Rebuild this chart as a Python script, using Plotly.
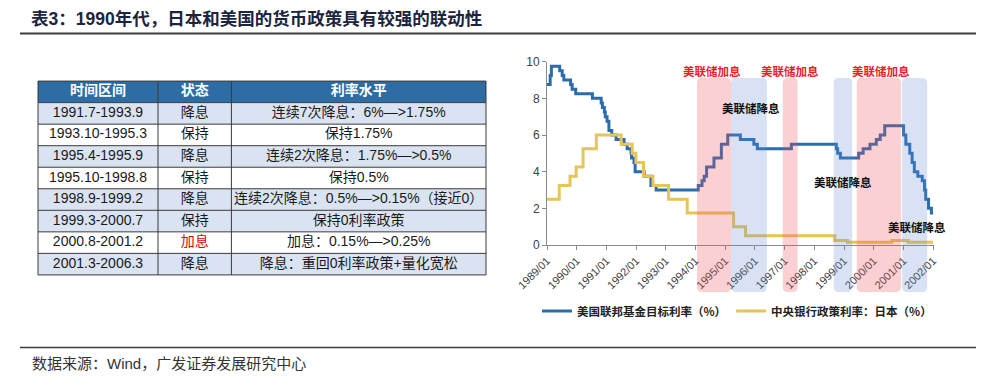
import plotly.graph_objects as go
from datetime import date

# ---------------- data ----------------
fed_dates = ["1989-01-01", "1989-02-09", "1989-02-24", "1989-06-06", "1989-07-07", "1989-07-27",
             "1989-10-18", "1989-11-06", "1989-12-20", "1990-07-13", "1990-10-29", "1990-11-13",
             "1990-12-07", "1990-12-18", "1991-01-09", "1991-02-01", "1991-03-08", "1991-04-30",
             "1991-08-06", "1991-09-13", "1991-10-31", "1991-11-06", "1991-12-06", "1991-12-20",
             "1992-04-09", "1992-07-02", "1992-09-04", "1994-02-04", "1994-03-22", "1994-04-18",
             "1994-05-17", "1994-08-16", "1994-11-15", "1995-02-01", "1995-07-06", "1995-12-19",
             "1996-01-31", "1997-03-25", "1998-09-29", "1998-10-15", "1998-11-17", "1999-06-30",
             "1999-08-24", "1999-11-16", "2000-02-02", "2000-03-21", "2000-05-16", "2001-01-03",
             "2001-01-31", "2001-03-20", "2001-04-18", "2001-05-15", "2001-06-27", "2001-08-21",
             "2001-09-17", "2001-10-02", "2001-11-06", "2001-12-11", "2002-01-01"]
fed_rates = [8.75, 9.25, 9.75, 9.5, 9.25, 9.0,
             8.75, 8.5, 8.25, 8.0, 7.75, 7.5,
             7.25, 7.0, 6.75, 6.25, 6.0, 5.75,
             5.5, 5.25, 5.0, 4.75, 4.5, 4.0,
             3.75, 3.25, 3.0, 3.25, 3.5, 3.75,
             4.25, 4.75, 5.5, 6.0, 5.75, 5.5,
             5.25, 5.5, 5.25, 5.0, 4.75, 5.0,
             5.25, 5.5, 5.75, 6.0, 6.5, 6.0,
             5.5, 5.0, 4.5, 4.0, 3.75, 3.5,
             3.0, 2.5, 2.0, 1.75, 1.75]

jp_dates = ["1989-01-01", "1989-05-31", "1989-10-11", "1989-12-25", "1990-03-20", "1990-08-30",
            "1991-07-01", "1991-11-14", "1991-12-30", "1992-04-01", "1992-07-27", "1993-02-04",
            "1993-09-21", "1995-04-14", "1995-09-08", "1998-09-09", "1999-02-12", "2000-08-11",
            "2001-02-28", "2002-01-01"]
jp_rates = [2.5, 3.25, 3.75, 4.25, 5.25, 6.0,
            5.5, 5.0, 4.5, 3.75, 3.25, 2.5,
            1.75, 1.0, 0.5, 0.25, 0.15, 0.25,
            0.15, 0.15]

hike_starts = ["1994-01-19", "1996-12-09", "1999-06-06"]
hike_ends = ["1995-03-14", "1997-06-10", "2000-12-02"]
cut_starts = ["1995-03-14", "1998-08-28", "2000-12-16"]
cut_ends = ["1996-05-27", "1999-04-12", "2001-10-20"]

year_ticks = list(range(1989, 2003))
year_tick_labels = [f"{y}/01" for y in year_ticks]
y_ticks = [0, 2, 4, 6, 8, 10]

series_names = ["美国联邦基金目标利率（%）", "中央银行政策利率：日本（%）"]

table_header = ["时间区间", "状态", "利率水平"]
table_periods = ["1991.7-1993.9", "1993.10-1995.3", "1995.4-1995.9", "1995.10-1998.8",
                 "1998.9-1999.2", "1999.3-2000.7", "2000.8-2001.2", "2001.3-2006.3"]
table_status = ["降息", "保持", "降息", "保持", "降息", "保持", "加息", "降息"]
table_levels = ["连续7次降息：6%—>1.75%", "保持1.75%", "连续2次降息：1.75%—>0.5%", "保持0.5%",
                "连续2次降息：0.5%—>0.15%（接近0）", "保持0利率政策", "加息：0.15%—>0.25%",
                "降息：重回0利率政策+量化宽松"]
table_col_widths = [120, 73.4, 254.6]

title_text = "表3：1990年代，日本和美国的货币政策具有较强的联动性"
source_text = "数据来源：Wind，广发证券发展研究中心"
hike_label = "美联储加息"
cut_label = "美联储降息"


def dec_year(s):
    y, m, d = map(int, s.split("-"))
    start = date(y, 1, 1)
    return y + (date(y, m, d) - start).days / (date(y + 1, 1, 1) - start).days


# ---------------- layout constants ----------------
W, H = 993, 381
FONT = "Liberation Sans, Arial, Noto Sans CJK SC, sans-serif"
CJK = "Noto Sans CJK SC, sans-serif"
X_RANGE = [1989.0, 2002.03]
X_DOM = [547 / W, 934 / W]
Y_DOM = [1 - 245 / H, 1 - 61.7 / H]
px_per_year = (X_DOM[1] - X_DOM[0]) * W / (X_RANGE[1] - X_RANGE[0])

fig = go.Figure()
shapes = []

# ---------------- table (own axes x2/y2: x in px-units, y in rows) ----------------
n_rows = len(table_periods)
col_edges = [0]
for w in table_col_widths:
    col_edges.append(col_edges[-1] + w)
col_centers = [(col_edges[i] + col_edges[i + 1]) / 2 for i in range(3)]
light, white = "#DAE3F1", "#FFFFFF"
row_fill = [light, white, light, white, light, light, white, light]
status_colors = ["#E00000" if s == "加息" else "#1A1A1A" for s in table_status]

shapes.append(dict(type="rect", xref="x2", yref="y2", x0=col_edges[0], x1=col_edges[-1], y0=0, y1=1,
                   fillcolor="#2E6CA4", line=dict(width=0), layer="below"))
for r in range(n_rows):
    shapes.append(dict(type="rect", xref="x2", yref="y2", x0=col_edges[0], x1=col_edges[-1],
                       y0=r + 1, y1=r + 2, fillcolor=row_fill[r], line=dict(width=0), layer="below"))
for r in range(n_rows + 2):
    shapes.append(dict(type="line", xref="x2", yref="y2", x0=col_edges[0], x1=col_edges[-1],
                       y0=r, y1=r, line=dict(color="#3A3A3A", width=1)))
for c in col_edges:
    shapes.append(dict(type="line", xref="x2", yref="y2", x0=c, x1=c, y0=0, y1=n_rows + 1,
                       line=dict(color="#3A3A3A", width=1)))

fig.add_trace(go.Scatter(x=col_centers, y=[0.5] * 3, text=table_header, mode="text",
                         textposition="middle center", xaxis="x2", yaxis="y2",
                         textfont=dict(family=CJK, size=14, color="white", weight="bold"),
                         showlegend=False, hoverinfo="skip", cliponaxis=False))
row_y = [r + 1.5 for r in range(n_rows)]
for ci, (vals, cols) in enumerate([(table_periods, ["#1A1A1A"] * n_rows),
                                   (table_status, status_colors),
                                   (table_levels, ["#1A1A1A"] * n_rows)]):
    fig.add_trace(go.Scatter(x=[col_centers[ci]] * n_rows, y=row_y, text=vals, mode="text",
                             textposition="middle center", xaxis="x2", yaxis="y2",
                             textfont=dict(family=FONT, size=14, color=cols),
                             showlegend=False, hoverinfo="skip", cliponaxis=False))

# ---------------- lines ----------------
fig.add_trace(go.Scatter(x=[dec_year(d) for d in fed_dates], y=fed_rates, mode="lines",
                         line=dict(color="#2A6CAC", width=3, shape="hv"), name=series_names[0]))
fig.add_trace(go.Scatter(x=[dec_year(d) for d in jp_dates], y=jp_rates, mode="lines",
                         line=dict(color="#E6C455", width=3, shape="hv"), name=series_names[1]))


def rrect(x0, x1, y0, y1, r=5):
    rx = r / px_per_year
    ry = r / H
    return (f"M {x0 + rx},{y1} L {x1 - rx},{y1} Q {x1},{y1} {x1},{y1 - ry} "
            f"L {x1},{y0 + ry} Q {x1},{y0} {x1 - rx},{y0} L {x0 + rx},{y0} "
            f"Q {x0},{y0} {x0},{y0 + ry} L {x0},{y1 - ry} Q {x0},{y1} {x0 + rx},{y1} Z")


SH_TOP = 1 - 78 / H
SH_BOT = 1 - 292 / H
for s, e in zip(hike_starts, hike_ends):
    shapes.append(dict(type="path", xref="x", yref="paper",
                       path=rrect(dec_year(s), dec_year(e), SH_BOT, SH_TOP),
                       fillcolor="rgba(242,80,92,0.27)", line=dict(width=0), layer="above"))
for s, e in zip(cut_starts, cut_ends):
    shapes.append(dict(type="path", xref="x", yref="paper",
                       path=rrect(dec_year(s), dec_year(e), SH_BOT, SH_TOP),
                       fillcolor="rgba(100,140,210,0.25)", line=dict(width=0), layer="above"))

# title / footer rules
shapes.append(dict(type="line", xref="paper", yref="paper", x0=20 / W, x1=976 / W,
                   y0=1 - 33.5 / H, y1=1 - 33.5 / H, line=dict(color="#3C3C3C", width=2)))
shapes.append(dict(type="line", xref="paper", yref="paper", x0=20 / W, x1=976 / W,
                   y0=1 - 347.5 / H, y1=1 - 347.5 / H, line=dict(color="#3C3C3C", width=1.5)))

annotations = [
    dict(text=title_text, xref="paper", yref="paper", x=29 / W, y=1 - 19 / H, xanchor="left",
         yanchor="middle", showarrow=False,
         font=dict(family=FONT, size=17.5, color="#1B2540", weight="bold")),
    dict(text=source_text, xref="paper", yref="paper", x=30 / W, y=1 - 363 / H, xanchor="left",
         yanchor="middle", showarrow=False, font=dict(family=FONT, size=15, color="#333333")),
]
hike_label_pos = [(1994.56, 9.47), (1997.18, 9.47), (2000.25, 9.47)]
cut_label_pos = [(1995.87, 7.49), (1998.97, 3.46), (2001.46, 1.0)]
for x, y in hike_label_pos:
    annotations.append(dict(text=hike_label, x=x, y=y, xref="x", yref="y", showarrow=False,
                            font=dict(family=CJK, size=11.5, color="#EE1C25", weight="bold")))
for x, y in cut_label_pos:
    annotations.append(dict(text=cut_label, x=x, y=y, xref="x", yref="y", showarrow=False,
                            font=dict(family=CJK, size=11.5, color="#111111", weight="bold")))

fig.update_layout(
    width=W, height=H, margin=dict(l=0, r=0, t=0, b=0, pad=0), autosize=False,
    paper_bgcolor="white", plot_bgcolor="white",
    shapes=shapes, annotations=annotations,
    xaxis=dict(domain=X_DOM, range=X_RANGE, tickvals=year_ticks, ticktext=year_tick_labels,
               tickangle=-45, showgrid=False, zeroline=False, showline=True, linecolor="#8A8A8A",
               linewidth=1, ticks="outside", ticklen=4, tickcolor="#8A8A8A", automargin=False,
               tickfont=dict(family=FONT, size=11, color="#404040")),
    yaxis=dict(domain=Y_DOM, range=[0, 10], tickvals=y_ticks, showgrid=False, zeroline=False,
               showline=True, linecolor="#8A8A8A", linewidth=1, ticks="outside", ticklen=4,
               tickcolor="#8A8A8A", automargin=False,
               tickfont=dict(family=FONT, size=12, color="#404040")),
    xaxis2=dict(domain=[37 / W, 487 / W], range=[-1, 449], visible=False, automargin=False,
                fixedrange=True),
    yaxis2=dict(domain=[1 - 276 / H, 1 - 80 / H], range=[9.05, -0.05], visible=False,
                automargin=False, fixedrange=True, anchor="x2"),
    showlegend=True,
    legend=dict(orientation="h", x=537 / W, y=1 - 311 / H, xanchor="left", yanchor="middle",
                font=dict(family=CJK, size=11.5, color="#222222", weight="bold"),
                bgcolor="rgba(0,0,0,0)", tracegroupgap=0, itemwidth=30),
)

fig.write_html("out.html", config={"displayModeBar": False},
               post_script="document.body.style.margin='0';document.body.style.overflow='hidden';")
